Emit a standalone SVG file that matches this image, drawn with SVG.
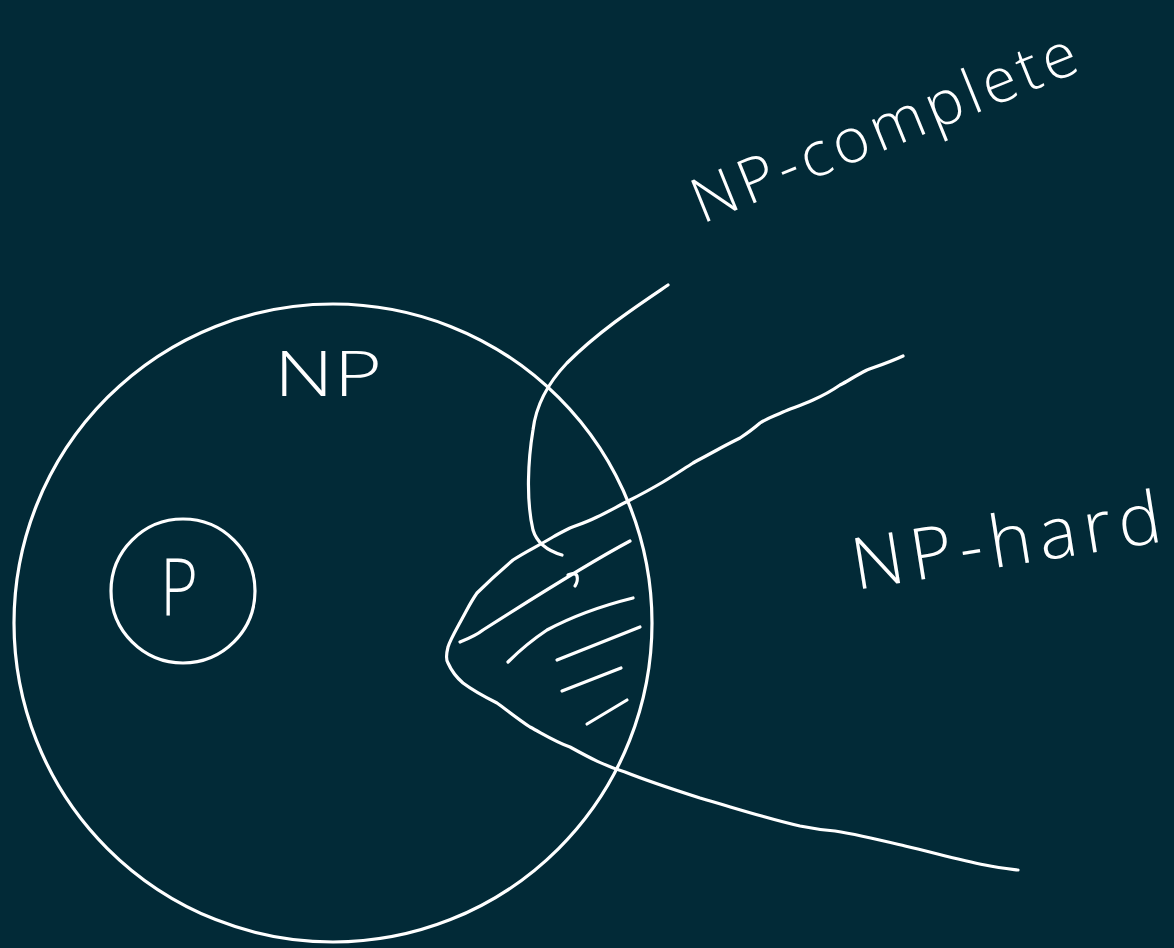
<svg xmlns="http://www.w3.org/2000/svg" width="1174" height="948" viewBox="0 0 1174 948">
<style>
.s{fill:none;stroke:#ffffff;stroke-width:3.2;stroke-linecap:round;stroke-linejoin:round}
.t{fill:#ffffff;font-family:"Open Sans","Liberation Sans",sans-serif;font-weight:300}
</style>
<rect width="1174" height="948" fill="#022a37"/>
<g id="np">
<circle class="s" cx="333" cy="623" r="319"/>
<text class="t" x="274" y="396" font-size="62" textLength="108" lengthAdjust="spacingAndGlyphs">NP</text>
</g>
<g id="p">
<circle class="s" cx="183" cy="591" r="72"/>
<text class="t" x="160" y="615" font-size="80" textLength="38" lengthAdjust="spacingAndGlyphs">P</text>
</g>
<g id="np-complete">
<path class="s" d="M668,285 C640,304 600,330 567,363 C548,383 536,405 533,430 C528,460 526,500 533,530 C536,540 545,550 562,555"/>
<text class="t" x="0" y="0" font-size="62" textLength="410" lengthAdjust="spacing" transform="translate(702,224) rotate(-22)">NP-complete</text>
</g>
<g id="np-hard">
<path class="s" d="M903,356 C890,362 878,366 867,370 C855,376 848,381 840,385 C830,392 822,396 813,400 C800,406 792,408 783,412 C772,417 766,419 760,423 C752,430 746,434 740,438 C730,443 724,446 717,450 C708,455 700,459 693,463 C682,470 673,476 663,482 C651,489 642,494 630,500 C618,506 608,512 597,517 C587,522 578,525 570,528 C562,532 558,534 553,537 C538,546 525,552 513,560 C500,571 488,582 477,593 C470,603 467,610 463,617 C456,630 450,640 448,647 C446,655 446,660 448,663 C452,672 456,677 463,683 C475,692 485,697 497,703 C508,711 518,719 530,727 C545,735 556,742 570,747 C590,758 605,766 625,772 C650,782 675,790 700,798 C735,808 765,818 800,826 C815,829 822,830 835,831 C860,835 880,840 905,846 C935,853 960,860 985,865 C1000,868 1010,869 1018,870"/>
<path class="s" d="M460,642 C470,638 478,634 483,630 C530,600 585,565 630,541"/>
<path class="s" d="M508,662 C520,650 532,640 547,630 C575,615 605,605 633,598"/>
<path class="s" d="M557,660 L640,627"/>
<path class="s" d="M562,691 L621,668"/>
<path class="s" d="M587,724 L627,700"/>
<path class="s" d="M568,575 C572,573 576,573 577,576 C578,580 577,583 575,586"/>
<text class="t" x="0" y="0" font-size="72" textLength="312" lengthAdjust="spacing" transform="translate(856,590) rotate(-9)">NP-hard</text>
</g>
</svg>
